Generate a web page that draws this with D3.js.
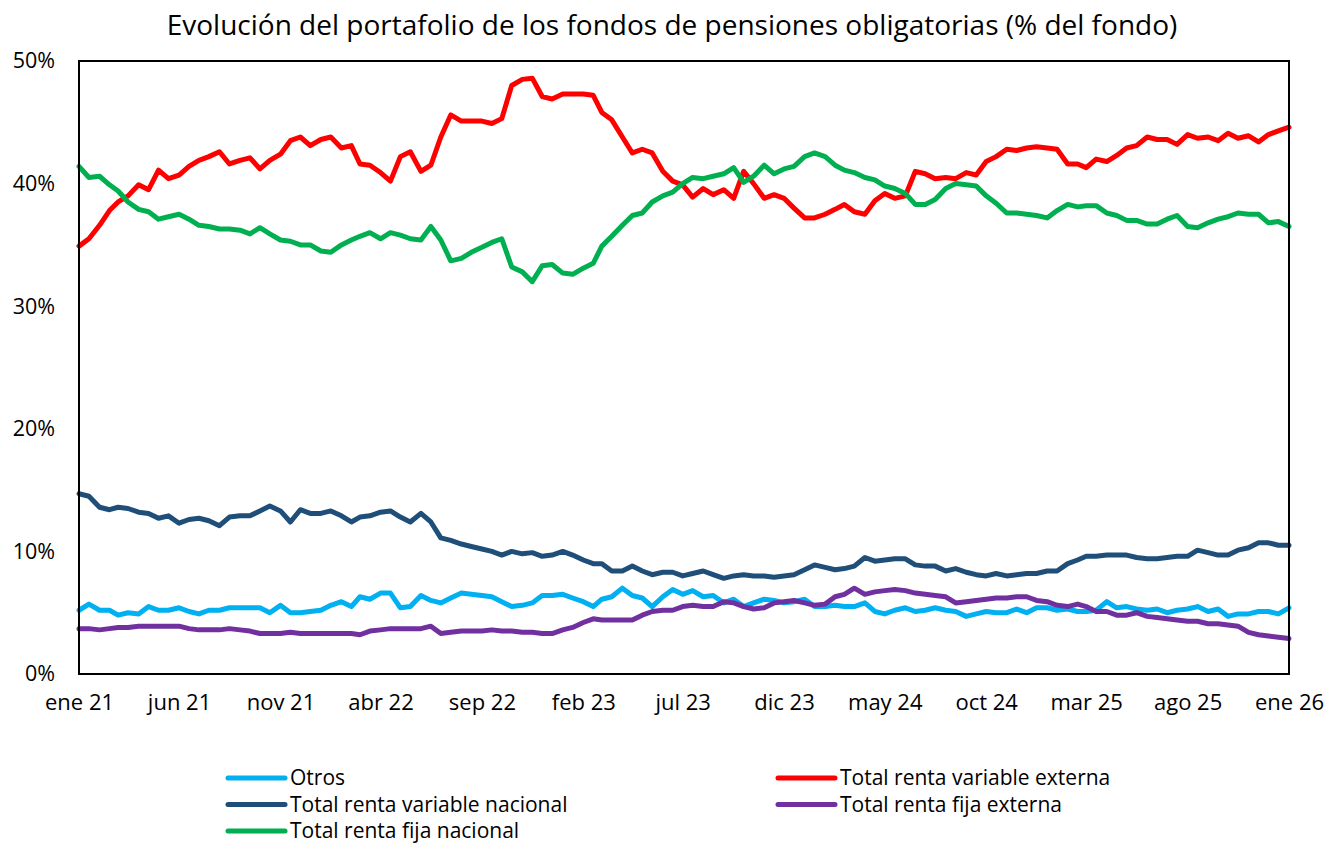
<!DOCTYPE html>
<html lang="es">
<head>
<meta charset="utf-8">
<title>Evolución del portafolio de los fondos de pensiones obligatorias</title>
<script src="https://cdn.jsdelivr.net/npm/d3@7"></script>
<style>
  html, body { margin: 0; padding: 0; background: #fff; }
  svg { display: block; font-family: "Open Sans", "Noto Sans", sans-serif; }
</style>
</head>
<body>
<svg id="chart" width="1328" height="844"></svg>
<script>
// Semi-monthly observations, ene 2021 – ene 2026 (% del fondo)
const otros = [
  5.2, 5.7, 5.2, 5.2, 4.8, 5.0, 4.9, 5.5, 5.2, 5.2, 5.4, 5.1, 4.9, 5.2, 5.2, 5.4, 5.4, 5.4, 5.4, 5.0,
  5.6, 5.0, 5.0, 5.1, 5.2, 5.6, 5.9, 5.5, 6.3, 6.1, 6.6, 6.6, 5.4, 5.5, 6.4, 6.0, 5.8, 6.2, 6.6, 6.5,
  6.4, 6.3, 5.9, 5.5, 5.6, 5.8, 6.4, 6.4, 6.5, 6.2, 5.9, 5.5, 6.1, 6.3, 7.0, 6.4, 6.2, 5.5, 6.3, 6.9,
  6.5, 6.8, 6.3, 6.4, 5.8, 6.1, 5.5, 5.8, 6.1, 6.0, 5.8, 5.9, 6.1, 5.5, 5.5, 5.6, 5.5, 5.5, 5.8, 5.1,
  4.9, 5.2, 5.4, 5.1, 5.2, 5.4, 5.2, 5.1, 4.7, 4.9, 5.1, 5.0, 5.0, 5.3, 5.0, 5.4, 5.4, 5.2, 5.3, 5.1,
  5.1, 5.2, 5.9, 5.4, 5.5, 5.3, 5.2, 5.3, 5.0, 5.2, 5.3, 5.5, 5.1, 5.3, 4.7, 4.9, 4.9, 5.1, 5.1, 4.9,
  5.4
];
const rentaVariableExterna = [
  34.9, 35.5, 36.6, 37.8, 38.5, 39.0, 39.9, 39.5, 41.1, 40.4, 40.7, 41.4, 41.9, 42.2, 42.6, 41.6, 41.9, 42.1, 41.2, 41.9,
  42.4, 43.5, 43.8, 43.1, 43.6, 43.8, 42.9, 43.1, 41.6, 41.5, 40.9, 40.2, 42.2, 42.6, 41.0, 41.5, 43.8, 45.6, 45.1, 45.1,
  45.1, 44.9, 45.3, 48.0, 48.5, 48.6, 47.1, 46.9, 47.3, 47.3, 47.3, 47.2, 45.8, 45.2, 43.8, 42.5, 42.8, 42.5, 41.0, 40.2,
  39.9, 38.9, 39.6, 39.1, 39.5, 38.8, 41.0, 40.0, 38.8, 39.1, 38.8, 38.0, 37.2, 37.2, 37.5, 37.9, 38.3, 37.7, 37.5, 38.6,
  39.2, 38.8, 39.0, 41.0, 40.8, 40.4, 40.5, 40.4, 40.9, 40.7, 41.8, 42.2, 42.8, 42.7, 42.9, 43.0, 42.9, 42.8, 41.6, 41.6,
  41.3, 42.0, 41.8, 42.3, 42.9, 43.1, 43.8, 43.6, 43.6, 43.2, 44.0, 43.7, 43.8, 43.5, 44.1, 43.7, 43.9, 43.4, 44.0, 44.3,
  44.6
];
const rentaVariableNacional = [
  14.7, 14.5, 13.6, 13.4, 13.6, 13.5, 13.2, 13.1, 12.7, 12.9, 12.3, 12.6, 12.7, 12.5, 12.1, 12.8, 12.9, 12.9, 13.3, 13.7,
  13.3, 12.4, 13.4, 13.1, 13.1, 13.3, 12.9, 12.4, 12.8, 12.9, 13.2, 13.3, 12.8, 12.4, 13.1, 12.4, 11.1, 10.9, 10.6, 10.4,
  10.2, 10.0, 9.7, 10.0, 9.8, 9.9, 9.6, 9.7, 10.0, 9.7, 9.3, 9.0, 9.0, 8.4, 8.4, 8.8, 8.4, 8.1, 8.3, 8.3,
  8.0, 8.2, 8.4, 8.1, 7.8, 8.0, 8.1, 8.0, 8.0, 7.9, 8.0, 8.1, 8.5, 8.9, 8.7, 8.5, 8.6, 8.8, 9.5, 9.2,
  9.3, 9.4, 9.4, 8.9, 8.8, 8.8, 8.4, 8.6, 8.3, 8.1, 8.0, 8.2, 8.0, 8.1, 8.2, 8.2, 8.4, 8.4, 9.0, 9.3,
  9.6, 9.6, 9.7, 9.7, 9.7, 9.5, 9.4, 9.4, 9.5, 9.6, 9.6, 10.1, 9.9, 9.7, 9.7, 10.1, 10.3, 10.7, 10.7, 10.5,
  10.5
];
const rentaFijaExterna = [
  3.7, 3.7, 3.6, 3.7, 3.8, 3.8, 3.9, 3.9, 3.9, 3.9, 3.9, 3.7, 3.6, 3.6, 3.6, 3.7, 3.6, 3.5, 3.3, 3.3,
  3.3, 3.4, 3.3, 3.3, 3.3, 3.3, 3.3, 3.3, 3.2, 3.5, 3.6, 3.7, 3.7, 3.7, 3.7, 3.9, 3.3, 3.4, 3.5, 3.5,
  3.5, 3.6, 3.5, 3.5, 3.4, 3.4, 3.3, 3.3, 3.6, 3.8, 4.2, 4.5, 4.4, 4.4, 4.4, 4.4, 4.8, 5.1, 5.2, 5.2,
  5.5, 5.6, 5.5, 5.5, 5.9, 5.8, 5.5, 5.3, 5.4, 5.8, 5.9, 6.0, 5.8, 5.6, 5.7, 6.3, 6.5, 7.0, 6.5, 6.7,
  6.8, 6.9, 6.8, 6.6, 6.5, 6.4, 6.3, 5.8, 5.9, 6.0, 6.1, 6.2, 6.2, 6.3, 6.3, 6.0, 5.9, 5.6, 5.5, 5.7,
  5.5, 5.1, 5.1, 4.8, 4.8, 5.0, 4.7, 4.6, 4.5, 4.4, 4.3, 4.3, 4.1, 4.1, 4.0, 3.9, 3.4, 3.2, 3.1, 3.0,
  2.9
];
const rentaFijaNacional = [
  41.4, 40.5, 40.6, 39.9, 39.4, 38.5, 37.9, 37.7, 37.1, 37.3, 37.5, 37.1, 36.6, 36.5, 36.3, 36.3, 36.2, 35.9, 36.4, 35.9,
  35.4, 35.3, 35.0, 35.0, 34.5, 34.4, 35.0, 35.4, 35.7, 36.0, 35.5, 36.0, 35.8, 35.5, 35.4, 36.5, 35.4, 33.7, 33.9, 34.4,
  34.8, 35.2, 35.5, 33.2, 32.8, 32.0, 33.3, 33.4, 32.7, 32.6, 33.1, 33.5, 34.9, 35.7, 36.6, 37.4, 37.6, 38.5, 39.0, 39.3,
  40.0, 40.5, 40.4, 40.6, 40.8, 41.3, 40.1, 40.6, 41.5, 40.8, 41.2, 41.4, 42.2, 42.5, 42.2, 41.5, 41.1, 40.9, 40.5, 40.3,
  39.8, 39.6, 39.2, 38.3, 38.3, 38.7, 39.6, 40.0, 39.9, 39.8, 39.0, 38.4, 37.6, 37.6, 37.5, 37.4, 37.2, 37.8, 38.3, 38.1,
  38.2, 38.2, 37.6, 37.4, 37.0, 37.0, 36.7, 36.7, 37.1, 37.4, 36.5, 36.4, 36.8, 37.1, 37.3, 37.6, 37.5, 37.5, 36.8, 36.9,
  36.5
];

const seriesNames = [
  "Otros",
  "Total renta variable externa",
  "Total renta variable nacional",
  "Total renta fija externa",
  "Total renta fija nacional"
];
const seriesColors = ["#00B0F0", "#FF0000", "#1F4E79", "#7030A0", "#00B050"];
const seriesValues = [otros, rentaVariableExterna, rentaVariableNacional, rentaFijaExterna, rentaFijaNacional];

const xTickLabels = ["ene 21", "jun 21", "nov 21", "abr 22", "sep 22", "feb 23", "jul 23",
                     "dic 23", "may 24", "oct 24", "mar 25", "ago 25", "ene 26"];
const yTicks = [0, 10, 20, 30, 40, 50];
const titleText = "Evolución del portafolio de los fondos de pensiones obligatorias (% del fondo)";

// Observation dates: 1st and 16th of each month starting ene 2021
const dates = otros.map((_, i) => new Date(2021, Math.floor(i / 2), i % 2 ? 16 : 1));
const tickDates = xTickLabels.map((_, k) => new Date(2021, k * 5, 1));

const svg = d3.select("#chart");
const W = 1328, H = 844;
const plot = { left: 79, right: 1289, top: 61, bottom: 674 };

const x = d3.scaleTime()
  .domain([new Date(2021, 0, 1), new Date(2026, 0, 1)])
  .range([plot.left, plot.right]);
const y = d3.scaleLinear().domain([0, 50]).range([plot.bottom, plot.top]);

// Title
svg.append("text")
  .attr("x", 672)
  .attr("y", 35)
  .attr("text-anchor", "middle")
  .attr("font-size", 28)
  .attr("fill", "#000")
  .text(titleText);

// Y axis labels
const yAxis = d3.axisLeft(y)
  .tickValues(yTicks)
  .tickSize(0)
  .tickPadding(24)
  .tickFormat(d => d + "%");
svg.append("g")
  .attr("transform", `translate(${plot.left},0)`)
  .call(yAxis)
  .call(g => g.select(".domain").remove())
  .call(g => g.selectAll("text").attr("font-size", 21.5).attr("fill", "#000")
    .attr("font-family", "'Open Sans', sans-serif"));

// X axis labels
const xAxis = d3.axisBottom(x)
  .tickValues(tickDates)
  .tickSize(0)
  .tickPadding(20)
  .tickFormat((d, i) => xTickLabels[i]);
svg.append("g")
  .attr("transform", `translate(0,${plot.bottom})`)
  .call(xAxis)
  .call(g => g.select(".domain").remove())
  .call(g => g.selectAll("text").attr("font-size", 22).attr("fill", "#000")
    .attr("font-family", "'Open Sans', sans-serif"));

// Series lines
const line = d3.line()
  .x((d, i) => x(dates[i]))
  .y(d => y(d));

svg.append("g")
  .selectAll("path")
  .data(seriesValues)
  .join("path")
  .attr("d", d => line(d))
  .attr("fill", "none")
  .attr("stroke", (d, i) => seriesColors[i])
  .attr("stroke-width", 5)
  .attr("stroke-linejoin", "round")
  .attr("stroke-linecap", "round");

// Plot frame
svg.append("rect")
  .attr("x", plot.left)
  .attr("y", plot.top)
  .attr("width", plot.right - plot.left)
  .attr("height", plot.bottom - plot.top)
  .attr("fill", "none")
  .attr("stroke", "#000")
  .attr("stroke-width", 2);

// Legend: two columns, filled row by row
const legendCols = [225, 775];
const legendRows = [778, 804.5, 831];
const legend = svg.append("g");
seriesNames.forEach((name, i) => {
  const cx = legendCols[i % 2];
  const cy = legendRows[Math.floor(i / 2)];
  const item = legend.append("g").attr("transform", `translate(${cx},${cy})`);
  item.append("line")
    .attr("x1", 3).attr("x2", 60)
    .attr("y1", 0).attr("y2", 0)
    .attr("stroke", seriesColors[i])
    .attr("stroke-width", 5)
    .attr("stroke-linecap", "round");
  item.append("text")
    .attr("x", 65)
    .attr("y", 7)
    .attr("font-size", 21)
    .attr("fill", "#000")
    .text(name);
});
</script>
</body>
</html>
